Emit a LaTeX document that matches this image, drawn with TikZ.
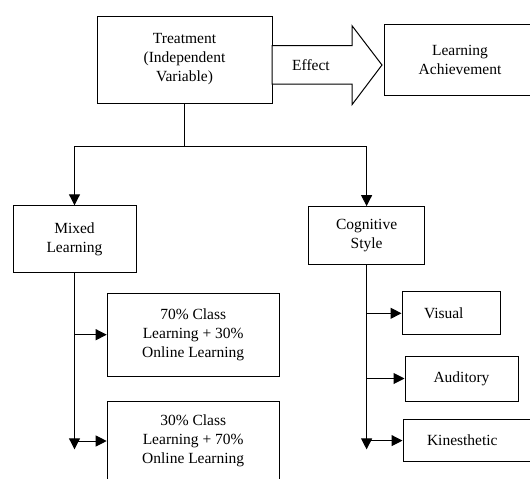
\documentclass[tikz,border=0pt]{standalone}
\usepackage{fontspec}
\setmainfont{Liberation Serif}
\usepackage{tikz}
\usetikzlibrary{arrows.meta}

\begin{document}
\begin{tikzpicture}[x=1pt, y=-1pt,
			box/.style={draw, line width=1pt, align=center, inner sep=0pt, font=\fontsize{15.5}{19}\selectfont},
			link/.style={line width=1pt, -{Triangle[length=11pt, width=11pt]}},
			line/.style={line width=1pt},
		]
		\useasboundingbox (0,0) rectangle (530,479);
		\clip (0,0) rectangle (530,479);

		\node[box, minimum width=175pt, minimum height=87pt] (treat) at (184.5,59.5) {Treatment\\(Independent\\Variable)};
		\node[box, minimum width=152pt, minimum height=71pt] (achieve) at (460,59.5) {Learning\\Achievement};

		\draw[line, fill=white] (272,45.6) -- (352,45.6) -- (352,25.7) -- (382,65) -- (352,104.7) -- (352,84) -- (272,84) -- cycle;
		\node[font=\fontsize{15.5}{19}\selectfont] (effect) at (311,65) {Effect};

		\node[box, minimum width=123pt, minimum height=67pt] (mixed) at (74.5,239.3) {Mixed\\Learning};
		\node[box, minimum width=116pt, minimum height=58pt] (cog)   at (366.6,235.6) {Cognitive\\Style};

		\node[box, minimum width=172pt, minimum height=83pt] (class70) at (193.2,334.7) {70\% Class\\Learning + 30\%\\Online Learning};
		\node[box, minimum width=172pt, minimum height=80pt] (class30) at (193.2,441) {30\% Class\\Learning  + 70\%\\Online Learning};

		\node[box, text width=54pt, inner xsep=22pt, align=left, minimum height=43pt] (visual) at (451,313.3) {Visual};
		\node[box, minimum width=113pt, minimum height=45pt] (audit) at (461.5,378.5) {Auditory};
		\node[box, text width=120pt, inner xsep=24pt, align=left, minimum height=42pt] (kines) at (487,440.6) {Kinesthetic};

		\coordinate (fork) at (184.5,146);
		\draw[line] (treat.south) -- (fork);
		\draw[link] (fork) -| (mixed.north);
		\draw[link] (fork) -| (cog.north);

		\path (mixed.south) ++(0,176) coordinate (mixend);
		\path (cog.south) ++(0,184.3) coordinate (cogend);
		\draw[link] (mixed.south) -- (mixend);
		\draw[link] (cog.south) -- (cogend);

		\draw[link] (mixed.south |- class70.west) -- (class70.west);
		\draw[link] (mixed.south |- class30.west) -- (class30.west);
		\draw[link] (cog.south |- visual.west) -- (visual.west);
		\draw[link] (cog.south |- audit.west) -- (audit.west);
		\draw[link] (cog.south |- kines.west) -- (kines.west);

		\end{tikzpicture}
\end{document}
